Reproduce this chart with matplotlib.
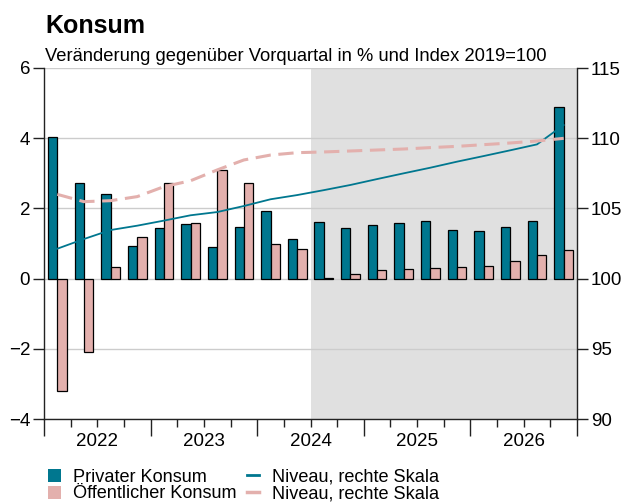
import matplotlib
matplotlib.use("Agg")
import matplotlib.pyplot as plt
import matplotlib.transforms as mtransforms
from matplotlib.patches import Patch
from matplotlib.lines import Line2D
import numpy as np

plt.rcParams['font.family'] = ['Liberation Sans', 'DejaVu Sans']

years = ["2022", "2023", "2024", "2025", "2026"]
privat = [4.03, 2.71, 2.41, 0.92, 1.44, 1.56, 0.90, 1.46, 1.94, 1.13,
          1.62, 1.44, 1.52, 1.57, 1.63, 1.39, 1.35, 1.46, 1.63, 4.90]
oeffentlich = [-3.19, -2.10, 0.32, 1.18, 2.71, 1.57, 3.08, 2.72, 0.98, 0.85,
               0.03, 0.13, 0.25, 0.28, 0.30, 0.33, 0.35, 0.51, 0.66, 0.82]
niveau_privat = [102.13, 102.82, 103.46, 103.77, 104.13, 104.51, 104.74, 105.17, 105.65, 105.95,
                 106.30, 106.67, 107.09, 107.50, 107.90, 108.33, 108.73, 109.14, 109.56, 110.94]
niveau_oeff = [106.00, 105.48, 105.55, 105.84, 106.55, 106.97, 107.74, 108.45, 108.80, 108.97,
               109.02, 109.09, 109.16, 109.23, 109.33, 109.42, 109.54, 109.66, 109.80, 109.99]
forecast_start = 10  # 2024Q3

TEAL = "#00778f"
PINK = "#e3b0ad"
SHADE = "#e0e0e0"
GRID = "#cccccc"

W, H = 627, 503
fig = plt.figure(figsize=(W / 100, H / 100), dpi=100)
L, R, T, B = 44, 577, 68, 419
ax = fig.add_axes([L / W, 1 - B / H, (R - L) / W, (B - T) / H])
ax2 = ax.twinx()

n = len(privat)
x = np.arange(n)
bw = 0.35

ax.axvspan(forecast_start - 0.5, n - 0.5, color=SHADE, zorder=0, lw=0)
for yv in [-4, -2, 0, 2, 4, 6]:
    ax.axhline(yv, color=GRID, lw=1.0, zorder=0.5)

ax.bar(x - bw / 2, privat, bw, color=TEAL, edgecolor="black", linewidth=0.9, zorder=2)
ax.bar(x + bw / 2, oeffentlich, bw, color=PINK, edgecolor="black", linewidth=0.9, zorder=2)

ax2.plot(x, niveau_privat, color=TEAL, lw=1.3, zorder=3)
ax2.plot(x, niveau_oeff, color=PINK, lw=2.2, dashes=(5, 2.5), zorder=3)

ax.set_xlim(-0.5, n - 0.5)
ax.set_ylim(-4, 6)
ax2.set_ylim(90, 115)
ax.set_yticks([-4, -2, 0, 2, 4, 6])
ax.set_yticklabels(["\u22124", "\u22122", "0", "2", "4", "6"])
ax2.set_yticks([90, 95, 100, 105, 110, 115])

for a in (ax, ax2):
    a.spines['top'].set_visible(False)
    for s in a.spines.values():
        s.set_linewidth(1.0)
        s.set_color("#222222")
ax2.spines['left'].set_visible(False)
ax2.spines['bottom'].set_visible(False)
ax.spines['right'].set_visible(False)

ax.tick_params(axis='y', length=8, width=1.0, labelsize=13.5, pad=2, color="#222222")
ax2.tick_params(axis='y', length=8, width=1.0, labelsize=13.5, pad=2, color="#222222")

bounds_major = np.arange(-0.5, n, 4)
bounds_minor = np.arange(-0.5, n, 1)
ax.set_xticks(bounds_major)
ax.set_xticklabels([])
ax.set_xticks(bounds_minor, minor=True)
ax.tick_params(axis='x', which='major', length=12, width=1.0, color="#222222")
ax.tick_params(axis='x', which='minor', length=6, width=1.0, color="#222222")

trans = mtransforms.blended_transform_factory(ax.transData, ax.transAxes)
for i, yr in enumerate(years):
    ax.text(i * 4 + 1.5, -22 / (B - T), yr, transform=trans, ha='center', va='center', fontsize=13.5)

fig.text(45 / W, 1 - 32.7 / H, "Konsum", fontsize=18, fontweight='bold', ha='left', va='baseline')
fig.text(45 / W, 1 - 61 / H, "Veränderung gegenüber Vorquartal in % und Index 2019=100",
         fontsize=13.2, ha='left', va='baseline')

handles = [Patch(facecolor=TEAL, edgecolor='none'),
           Patch(facecolor=PINK, edgecolor='none'),
           Line2D([], [], color=TEAL, lw=2),
           Line2D([], [], color=PINK, lw=2.5)]
labels = ["Privater Konsum", "Öffentlicher Konsum",
          "Niveau, rechte Skala", "Niveau, rechte Skala"]
leg = fig.legend(handles, labels, ncol=2, loc='upper left',
                 bbox_to_anchor=(48 / W, 1 - 468.5 / H), frameon=False,
                 fontsize=13.1, handlelength=0.7, handleheight=0.7,
                 handletextpad=0.68, columnspacing=0.55, labelspacing=0.0,
                 borderpad=0, borderaxespad=0)

fig.savefig("out.png", dpi=100)
